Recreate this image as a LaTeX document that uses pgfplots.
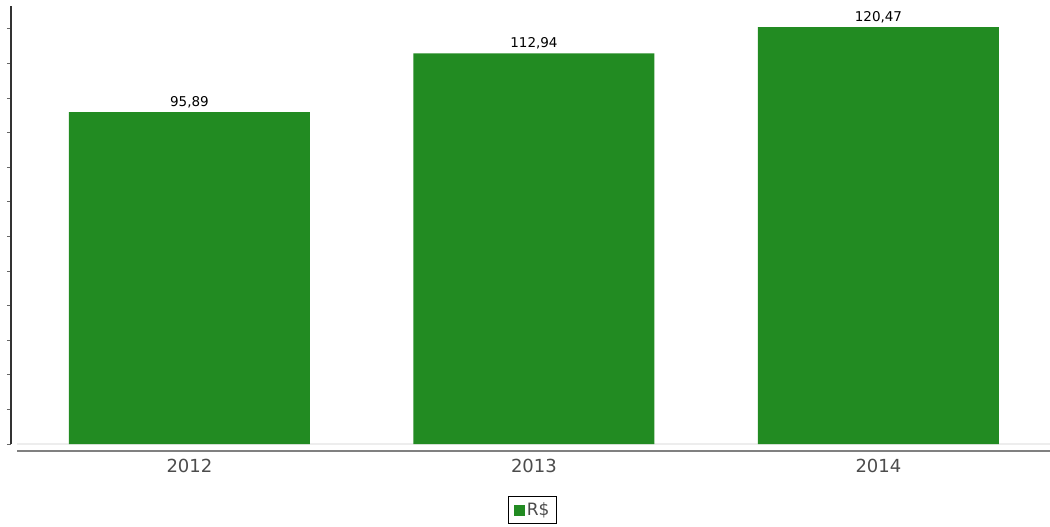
\documentclass[border=0pt]{standalone}
\usepackage{pgfplots}
\pgfplotsset{compat=1.18}
\usepackage{fontspec}
\setmainfont{DejaVu Sans}
\definecolor{barg}{HTML}{228B22}
\begin{document}
\begin{tikzpicture}
\begin{axis}[
  scale only axis, width=1039bp, height=438bp,
  xmin=-0.518, xmax=2.498, ymin=0, ymax=126.6,
  clip=false,
  axis lines=left,
  axis line style={-},
  x axis line style={draw=none},
  y axis line style={black!80, line width=1.6bp},
  ybar, bar width=241bp,
  xtick={0,1,2}, xticklabels={2012,2013,2014},
  major x tick style={draw=none},
  xticklabel style={font=\fontsize{18bp}{20bp}\selectfont, text=black!70, yshift=-8bp},
  ytick={0,10,...,120}, yticklabels={},
  tick align=outside,
  major tick length=4bp,
  major y tick style={black!60, line width=1bp},
  /pgf/number format/assume math mode=true,
  nodes near coords={\pgfmathprintnumber[fixed,zerofill,precision=2,use comma]{\pgfplotspointmeta}},
  every node near coord/.append style={font=\fontsize{13.5bp}{15bp}\selectfont, text=black, anchor=south, inner sep=0pt, yshift=4bp},
  legend style={at={(0.502,-0.151)}, anchor=center, draw=black, line width=1bp,
    font=\fontsize{17bp}{19bp}\selectfont, text=black!70, inner xsep=5bp, inner ysep=4bp},
  legend image code/.code={\fill[barg] (0bp,-5.5bp) rectangle (11bp,5.5bp);},
]
\draw[black!7, line width=1.5bp] (rel axis cs:0.0058,0) -- (rel axis cs:1,0);
\addplot[fill=barg, draw=none] coordinates {(0,95.89) (1,112.94) (2,120.47)};
\addlegendentry{R\$}
\draw[black!50, line width=1.8bp] ([yshift=-7bp]rel axis cs:0.0058,0) -- ([yshift=-7bp]rel axis cs:1,0);
\coordinate (bl) at (rel axis cs:0,0);
\coordinate (tr) at (rel axis cs:1,1);
\end{axis}
\pgfresetboundingbox
\path[use as bounding box] ([shift={(-11bp,-82bp)}]bl) rectangle ([yshift=6bp]tr);
\end{tikzpicture}
\end{document}
